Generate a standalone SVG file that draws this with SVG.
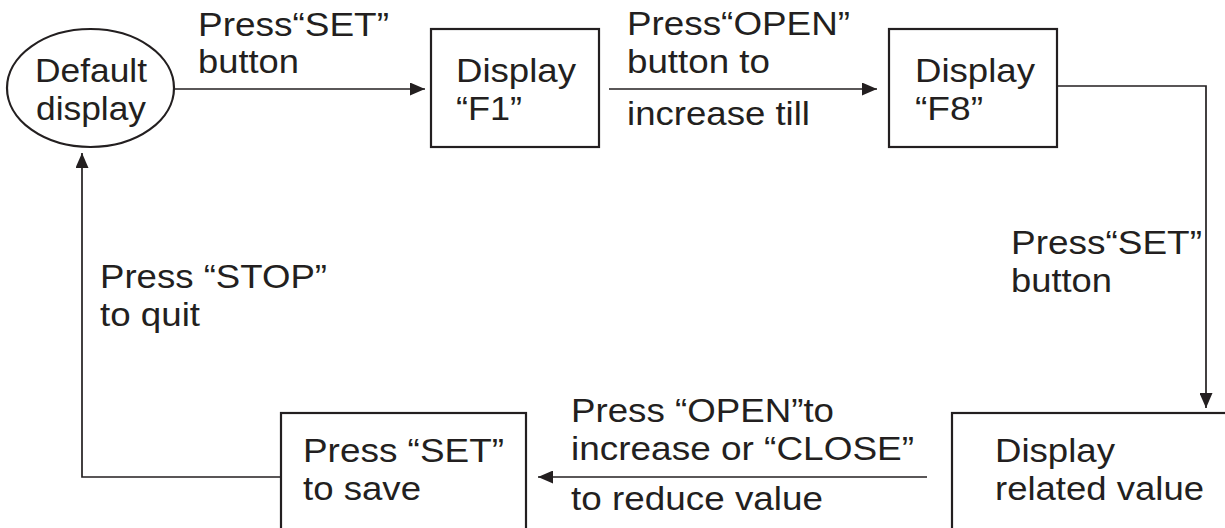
<svg xmlns="http://www.w3.org/2000/svg" width="1225" height="528" viewBox="0 0 1225 528">
<style>
.node{fill:#fff;stroke:#231f20;stroke-width:2.2}
.conn{fill:none;stroke:#231f20;stroke-width:1.7}
text{font-family:"Liberation Sans",Arial,Helvetica,sans-serif;font-size:33.5px;fill:#231f20}
</style>
<defs>
<marker id="arr" markerUnits="userSpaceOnUse" markerWidth="15" markerHeight="13" refX="15" refY="6.5" orient="auto">
<path d="M0,0 L15,6.5 L0,13 z" fill="#231f20"/>
</marker>
</defs>
<rect width="1225" height="528" fill="#fff"/>
<g id="connectors">
<path class="conn" d="M174,89 H425" marker-end="url(#arr)"/>
<path class="conn" d="M609,89 H877" marker-end="url(#arr)"/>
<path class="conn" d="M1057,86 H1206 V408" marker-end="url(#arr)"/>
<path class="conn" d="M927,477 H538" marker-end="url(#arr)"/>
<path class="conn" d="M281,477 H82 V153" marker-end="url(#arr)"/>
</g>
<g id="default-display">
<ellipse class="node" cx="90.5" cy="88" rx="83.5" ry="59"/>
<text x="35" y="82" textLength="112" lengthAdjust="spacingAndGlyphs">Default</text>
<text x="36" y="119.5" textLength="110" lengthAdjust="spacingAndGlyphs">display</text>
</g>
<g id="display-f1">
<rect class="node" x="431" y="29" width="168" height="118"/>
<text x="456" y="82" textLength="120" lengthAdjust="spacingAndGlyphs">Display</text>
<text x="456" y="119.5" textLength="66" lengthAdjust="spacingAndGlyphs">“F1”</text>
</g>
<g id="display-f8">
<rect class="node" x="889" y="29" width="168" height="118"/>
<text x="915" y="82" textLength="120" lengthAdjust="spacingAndGlyphs">Display</text>
<text x="915" y="119.5" textLength="68" lengthAdjust="spacingAndGlyphs">“F8”</text>
</g>
<g id="display-related-value">
<rect class="node" x="952" y="413" width="290" height="130"/>
<text x="995" y="462" textLength="120" lengthAdjust="spacingAndGlyphs">Display</text>
<text x="995" y="499.5" textLength="209" lengthAdjust="spacingAndGlyphs">related value</text>
</g>
<g id="press-set-save">
<rect class="node" x="281" y="413" width="245" height="130"/>
<text x="303" y="462" textLength="201" lengthAdjust="spacingAndGlyphs">Press “SET”</text>
<text x="303" y="499.5" textLength="118" lengthAdjust="spacingAndGlyphs">to save</text>
</g>
<g id="labels">
<text x="198" y="35.5" textLength="191" lengthAdjust="spacingAndGlyphs">Press“SET”</text>
<text x="198" y="73" textLength="101" lengthAdjust="spacingAndGlyphs">button</text>
<text x="627" y="35" textLength="223" lengthAdjust="spacingAndGlyphs">Press“OPEN”</text>
<text x="627" y="72.5" textLength="143" lengthAdjust="spacingAndGlyphs">button to</text>
<text x="627" y="125" textLength="183" lengthAdjust="spacingAndGlyphs">increase till</text>
<text x="1011" y="254" textLength="191" lengthAdjust="spacingAndGlyphs">Press“SET”</text>
<text x="1011" y="291.5" textLength="101" lengthAdjust="spacingAndGlyphs">button</text>
<text x="100" y="288" textLength="227" lengthAdjust="spacingAndGlyphs">Press “STOP”</text>
<text x="100" y="325.5" textLength="100" lengthAdjust="spacingAndGlyphs">to quit</text>
<text x="571" y="422" textLength="263" lengthAdjust="spacingAndGlyphs">Press “OPEN”to</text>
<text x="571" y="459.5" textLength="343" lengthAdjust="spacingAndGlyphs">increase or “CLOSE”</text>
<text x="571" y="510" textLength="252" lengthAdjust="spacingAndGlyphs">to reduce value</text>
</g>
</svg>
